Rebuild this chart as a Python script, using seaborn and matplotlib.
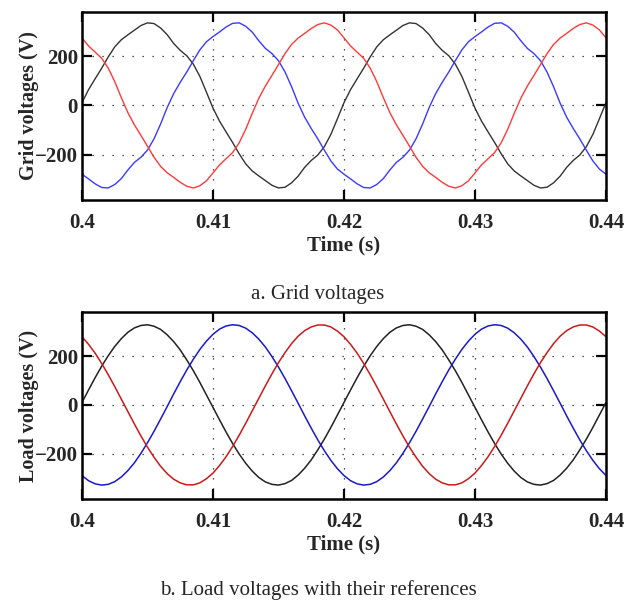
import numpy as np
import pandas as pd
import matplotlib
matplotlib.use("Agg")
import matplotlib.pyplot as plt
import seaborn as sns

# time axis (s), one sample every 0.5 ms
time_s = [round(0.4 + 0.0005 * i, 4) for i in range(81)]

# grid voltages (V)
grid_a = [11, 64, 108, 151, 197, 238, 267, 287, 306, 325, 336, 333, 315, 288, 252, 224, 202, 168, 118, 54,
          -11, -64, -108, -151, -197, -238, -267, -287, -306, -325, -336, -333, -315, -288, -252, -224, -202, -168, -118, -54,
          11, 64, 108, 151, 197, 238, 267, 287, 306, 325, 336, 333, 315, 288, 252, 224, 202, 168, 118, 54,
          -11, -64, -108, -151, -197, -238, -267, -287, -306, -325, -336, -333, -315, -288, -252, -224, -202, -168, -118, -54,
          11]
grid_b = [-280, -299, -319, -334, -336, -322, -298, -263, -232, -211, -182, -136, -76, -9,
          48, 94, 136, 182, 226, 259, 280, 299, 319, 334, 336, 322, 298, 263, 232, 211, 182, 136, 76, 9,
          -48, -94, -136, -182, -226, -259, -280, -299, -319, -334, -336, -322, -298, -263, -232, -211, -182, -136, -76, -9,
          48, 94, 136, 182, 226, 259, 280, 299, 319, 334, 336, 322, 298, 263, 232, 211, 182, 136, 76, 9,
          -48, -94, -136, -182, -226, -259, -280]
grid_c = [275, 242, 217, 192, 152, 97, 32,
          -29, -79, -122, -166, -211, -248, -274, -293, -313, -329, -336, -327, -307, -275, -242, -217, -192, -152, -97, -32,
          29, 79, 122, 166, 211, 248, 274, 293, 313, 329, 336, 327, 307, 275, 242, 217, 192, 152, 97, 32,
          -29, -79, -122, -166, -211, -248, -274, -293, -313, -329, -336, -327, -307, -275, -242, -217, -192, -152, -97, -32,
          29, 79, 122, 166, 211, 248, 274, 293, 313, 329, 336, 327, 307, 275]

# load voltages (V)
load_a = [10, 61, 111, 158, 201, 239, 271, 297, 315, 325, 328, 322, 309, 287, 259, 225, 184, 140, 92, 41,
          -10, -61, -111, -158, -201, -239, -271, -297, -315, -325, -328, -322, -309, -287, -259, -225, -184, -140, -92, -41,
          10, 61, 111, 158, 201, 239, 271, 297, 315, 325, 328, 322, 309, 287, 259, 225, 184, 140, 92, 41,
          -10, -61, -111, -158, -201, -239, -271, -297, -315, -325, -328, -322, -309, -287, -259, -225, -184, -140, -92, -41,
          10]
load_b = [-289, -310, -323, -328, -325, -314, -295, -269, -237, -198, -155, -108, -58, -7,
          45, 95, 143, 187, 227, 261, 289, 310, 323, 328, 325, 314, 295, 269, 237, 198, 155, 108, 58, 7,
          -45, -95, -143, -187, -227, -261, -289, -310, -323, -328, -325, -314, -295, -269, -237, -198, -155, -108, -58, -7,
          45, 95, 143, 187, 227, 261, 289, 310, 323, 328, 325, 314, 295, 269, 237, 198, 155, 108, 58, 7,
          -45, -95, -143, -187, -227, -261, -289]
load_c = [279, 248, 212, 170, 124, 75, 24,
          -27, -78, -127, -173, -214, -251, -281, -304, -319, -327, -327, -319, -302, -279, -248, -212, -170, -124, -75, -24,
          27, 78, 127, 173, 214, 251, 281, 304, 319, 327, 327, 319, 302, 279, 248, 212, 170, 124, 75, 24,
          -27, -78, -127, -173, -214, -251, -281, -304, -319, -327, -327, -319, -302, -279, -248, -212, -170, -124, -75, -24,
          27, 78, 127, 173, 214, 251, 281, 304, 319, 327, 327, 319, 302, 279]

x_ticks = [0.4, 0.41, 0.42, 0.43, 0.44]
x_ticklabels = ["0.4", "0.41", "0.42", "0.43", "0.44"]
y_ticks = [-200, 0, 200]

grid_colors = {"a": "#333333", "b": "#3a3aff", "c": "#ff3a3a"}
load_colors = {"a": "#222222", "b": "#1a1acc", "c": "#cc1a1a"}


def to_long(a, b, c):
    return pd.DataFrame({
        "t": time_s * 3,
        "v": a + b + c,
        "phase": ["a"] * len(a) + ["b"] * len(b) + ["c"] * len(c),
    })


sns.set_style("ticks")
plt.rcParams["font.family"] = ["Liberation Serif", "DejaVu Serif"]
plt.rcParams["axes.unicode_minus"] = True

fig = plt.figure(figsize=(6.34, 6.01), dpi=100)
ax1 = fig.add_axes([0.1293, 0.6672, 0.8265, 0.3128])
ax2 = fig.add_axes([0.1293, 0.1697, 0.8265, 0.3111])


def style_axis(ax, ylabel):
    ax.set_xlim(0.4, 0.44)
    ax.set_ylim(-385, 380)
    ax.set_xticks(x_ticks)
    ax.set_xticklabels(x_ticklabels)
    ax.set_yticks(y_ticks)
    ax.grid(True, color="#222222", linestyle=(0, (1, 7)), linewidth=0.9)
    ax.tick_params(direction="in", length=7, width=1.6, top=True, right=True,
                   labelsize=15, color="black")
    ax.tick_params(axis="x", pad=9)
    ax.tick_params(axis="y", pad=3)
    for lab in ax.get_xticklabels() + ax.get_yticklabels():
        lab.set_fontweight("bold")
    for sp in ax.spines.values():
        sp.set_linewidth(1.8)
        sp.set_color("black")
    ax.set_xlabel("Time (s)", fontsize=15, fontweight="bold", labelpad=2)
    ax.set_ylabel(ylabel, fontsize=14.5, fontweight="bold", labelpad=-3)
    leg = ax.get_legend()
    if leg is not None:
        leg.remove()


sns.lineplot(data=to_long(grid_a, grid_b, grid_c), x="t", y="v", hue="phase",
             palette=grid_colors, estimator=None, sort=False, linewidth=1.0, ax=ax1)
style_axis(ax1, "Grid voltages (V)")

sns.lineplot(data=to_long(load_a, load_b, load_c), x="t", y="v", hue="phase",
             palette=load_colors, estimator=None, sort=False, linewidth=1.1, ax=ax2)
style_axis(ax2, "Load voltages (V)")

fig.text(0.5016, 1 - 294 / 601, "a. Grid voltages", ha="center", va="center", fontsize=15)
fig.text(0.5016, 1 - 590 / 601, "b. Load voltages with their references", ha="center", va="center", fontsize=15)

fig.savefig("out.png", dpi=100)
